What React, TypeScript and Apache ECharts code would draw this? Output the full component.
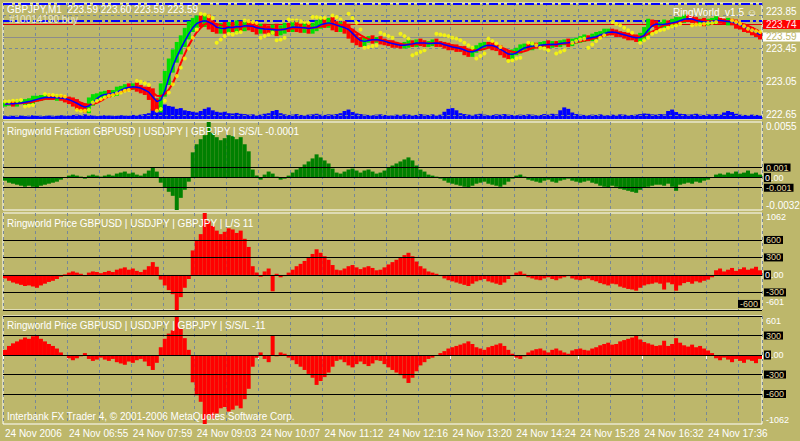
import React, { useEffect, useRef } from 'react';
import * as echarts from 'echarts';

const FONT = '"Liberation Sans", Arial, sans-serif';
const BG = '#BDB76B';
const GRID_COLOR = '#778899';
const TEXT = '#FFFFFF';
const LEVEL_TEXT = '#E6DCA0';
const UP = '#00E000';
const DOWN = '#FF0000';

// ---- axis / tick labels ----
const tickLabels = ['24 Nov 2006', '24 Nov 06:55', '24 Nov 07:59', '24 Nov 09:03', '24 Nov 10:07', '24 Nov 11:12',
  '24 Nov 12:16', '24 Nov 13:20', '24 Nov 14:24', '24 Nov 15:28', '24 Nov 16:32', '24 Nov 17:36'];
const BARS_PER_TICK = 16;
const priceTicks = [222.65, 223.05, 223.45, 223.85];
const askPrice = 223.74;
const bidPrice = 223.59;
const orderLevels = [223.99, 223.78];
const fractionRange = [-0.0032, 0.0055];
const fractionLevels = [0.001, 0, -0.001];
const lsRange = [-601, 1062];
const sslRange = [-1062, 601];
const priceLevels = [600, 300, 0, -300, -600];

// ---- main panel: GBPJPY closes (4-minute bars) ----
const closes = [
  222.78, 222.79, 222.78, 222.80, 222.80, 222.81, 222.82, 222.84, 222.85, 222.86,
  222.87, 222.86, 222.85, 222.86, 222.85, 222.83, 222.82, 222.79, 222.76, 222.74,
  222.73, 222.80, 222.86, 222.88, 222.90, 222.91, 222.90, 222.92, 222.95, 222.97,
  222.99, 222.98, 223.00, 222.97, 222.95, 222.93, 222.89, 222.78, 222.76, 222.95,
  223.10, 223.24, 223.36, 223.45, 223.54, 223.63, 223.71, 223.76, 223.79, 223.77,
  223.80, 223.74, 223.70, 223.68, 223.71, 223.69, 223.72, 223.70, 223.73, 223.71,
  223.74, 223.72, 223.70, 223.68, 223.70, 223.68, 223.67, 223.69, 223.66, 223.68,
  223.71, 223.70, 223.72, 223.70, 223.69, 223.71, 223.68, 223.71, 223.74, 223.76,
  223.75, 223.77, 223.73, 223.70, 223.72, 223.69, 223.63, 223.58, 223.54, 223.52,
  223.55, 223.57, 223.55, 223.56, 223.54, 223.52, 223.51, 223.50, 223.49, 223.48,
  223.50, 223.52, 223.50, 223.53, 223.52, 223.50, 223.51, 223.53, 223.51, 223.50,
  223.48, 223.47, 223.46, 223.45, 223.44, 223.41, 223.39, 223.43, 223.46, 223.48,
  223.50, 223.49, 223.47, 223.45, 223.41, 223.38, 223.36, 223.40, 223.43, 223.46,
  223.48, 223.47, 223.49, 223.48, 223.50, 223.51, 223.49, 223.51, 223.50, 223.52,
  223.53, 223.51, 223.54, 223.55, 223.57, 223.58, 223.57, 223.60, 223.61, 223.63,
  223.65, 223.66, 223.64, 223.63, 223.62, 223.60, 223.59, 223.58, 223.57, 223.60,
  223.66, 223.76, 223.75, 223.73, 223.74, 223.76, 223.75, 223.77, 223.79, 223.80,
  223.82, 223.81, 223.79, 223.77, 223.78, 223.76, 223.78, 223.79, 223.80, 223.78,
  223.77, 223.78, 223.76, 223.73, 223.71, 223.69, 223.67, 223.65, 223.62, 223.59,
];
// extent of each bar's range beyond open/close, in pips (0.01)
const wickPips = [
  3, 2, 3, 3, 2, 3, 3, 4, 3, 3, 3, 3, 2, 3, 3, 3, 4, 4, 5, 4,
  5, 6, 4, 3, 3, 3, 4, 3, 4, 3, 3, 4, 3, 4, 4, 4, 6, 8, 7, 8,
  8, 9, 8, 8, 7, 7, 7, 6, 6, 6, 6, 6, 5, 5, 5, 6, 5, 5, 6, 5,
  5, 5, 5, 6, 5, 5, 5, 5, 6, 5, 5, 5, 5, 5, 5, 5, 5, 5, 5, 5,
  5, 5, 6, 5, 5, 6, 6, 6, 5, 5, 4, 3, 4, 3, 4, 3, 3, 4, 3, 3,
  3, 4, 3, 3, 4, 3, 3, 3, 4, 3, 3, 4, 3, 4, 3, 4, 4, 4, 3, 4,
  3, 3, 4, 3, 4, 4, 4, 4, 3, 4, 3, 3, 4, 3, 3, 3, 4, 3, 3, 3,
  3, 4, 3, 3, 3, 4, 3, 3, 4, 3, 4, 3, 3, 4, 3, 3, 4, 3, 4, 4,
  5, 5, 4, 4, 3, 4, 3, 4, 4, 3, 4, 4, 3, 4, 3, 4, 3, 3, 4, 3,
  3, 4, 3, 4, 3, 4, 3, 4, 3, 3,
];
const volumes = [
  20, 18, 22, 16, 24, 20, 18, 26, 22, 18, 20, 24, 18, 22, 26, 20, 24, 28, 30, 26,
  32, 28, 24, 20, 22, 26, 24, 20, 22, 26, 24, 22, 28, 26, 30, 34, 40, 70, 95, 80,
  100, 90, 85, 70, 75, 60, 55, 50, 45, 55, 70, 80, 60, 50, 45, 50, 40, 38, 42, 36,
  34, 30, 32, 28, 30, 36, 40, 55, 62, 40, 32, 28, 30, 34, 28, 26, 30, 32, 36, 30,
  28, 32, 30, 34, 40, 55, 65, 48, 38, 34, 30, 28, 26, 30, 32, 28, 26, 24, 30, 28,
  32, 30, 26, 28, 34, 30, 28, 32, 26, 30, 50, 70, 75, 60, 40, 34, 30, 28, 32, 36,
  30, 26, 28, 32, 30, 34, 30, 28, 26, 30, 28, 32, 30, 26, 28, 34, 30, 36, 32, 60,
  80, 70, 45, 34, 30, 28, 26, 30, 28, 32, 28, 26, 30, 28, 32, 30, 26, 28, 30, 34,
  38, 36, 32, 30, 34, 32, 55, 65, 48, 36, 34, 30, 32, 36, 30, 28, 32, 30, 34, 30,
  45, 55, 48, 36, 30, 28, 26, 30, 28, 24,
];
const sarValues = [
  222.81, 222.81, 222.82, 222.82, 222.83, 222.75, 222.76, 222.77, null, null,
  222.90, 222.89, 222.89, 222.88, 222.88, 222.87, null, null, 222.71, 222.70,
  222.70, 222.71, 222.80, 222.82, 222.84, 222.86, 222.88, 222.89, 222.91, 222.92,
  222.94, 222.95, null, 223.06, 223.05, 223.03, 223.01, null, 222.70, 222.72,
  222.82, 222.92, 223.02, 223.12, 223.22, 223.33, 223.45, 223.58, 223.68, 223.87,
  223.86, 223.84, 223.82, 223.52, 223.56, 223.60, 223.63, 223.62, 223.64, 223.65,
  223.79, 223.78, 223.77, 223.76, 223.58, 223.60, 223.62, 223.64, 223.55, 223.56,
  223.58, 223.80, 223.79, 223.79, 223.78, 223.77, 223.76, 223.83, 223.83, 223.82,
  223.82, null, 223.85, 223.83, 223.80, null, 223.87, 223.82, 223.76, 223.68,
  223.46, 223.47, 223.48, 223.49, 223.64, 223.62, 223.60, 223.58, null, 223.63,
  223.60, 223.57, 223.37, 223.39, 223.41, 223.43, null, null, 223.63, 223.62,
  223.61, 223.60, 223.58, 223.57, 223.55, 223.52, 223.49, 223.46, 223.33, 223.36,
  223.39, 223.57, 223.54, 223.51, 223.47, null, 223.30, 223.31, 223.33, 223.34,
  null, 223.52, 223.51, 223.49, 223.46, 223.45, 223.43, null, 223.39, 223.41,
  223.43, null, 223.52, 223.54, 223.56, 223.57, 223.46, 223.50, 223.54, 223.58,
  223.61, null, 223.77, 223.75, 223.73, 223.70, 223.67, 223.64, null, 223.52,
  223.55, 223.58, 223.63, 223.65, 223.67, 223.68, 223.70, 223.72, 223.73, 223.75,
  null, null, 223.73, 223.74, 223.74, 223.75, 223.76, 223.76, 223.77, null,
  null, null, 223.79, 223.77, 223.75, 223.72, 223.69, 223.67, 223.66, 223.65,
];

// ---- indicator 1: Ringworld Fraction (units of 0.0001) ----
const FRACTION_UNIT = 10000;
const fractionValues = [
  -3, -5, -6, -7, -8, -9, -8, -9, -10, -8, -7, -6, -5, -4, -2, 0, 2, 3, 2, 1,
  -1, 2, 3, 2, 1, 2, 3, 2, 4, 5, 6, 4, 5, 3, 2, 4, 7, 10, 6, -5,
  -10, -14, -18, -32, -20, -12, -4, 25, 33, 38, 42, 55, 44, 40, 37, 39, 42, 41, 38, 40,
  33, 26, 8, 2, -2, 3, 6, 4, 1, -2, -1, 2, 5, 8, 10, 13, 16, 19, 23, 20,
  17, 14, 9, 5, 4, 6, 8, 9, 7, 5, 7, 8, 6, 4, 5, 7, 10, 12, 14, 16,
  18, 20, 17, 12, 8, 6, 3, 2, 1, -1, -3, -5, -6, -7, -8, -9, -10, -8, -6, -5,
  -4, -6, -7, -8, -9, -7, -4, -1, 2, 3, 1, -2, -3, -4, -5, -3, -2, -4, -5, -3,
  -2, -1, -3, -4, -5, -4, -3, -5, -6, -8, -9, -10, -8, -9, -11, -12, -13, -14, -15, -12,
  -10, -9, -8, -7, -7, -8, -6, -9, -13, -7, -6, -5, -6, -4, -5, -3, -2, 0, 3, 4,
  3, 5, 4, 6, 4, 5, 7, 4, 5, 3,
];
// ---- indicator 2: Ringworld Price L/S 11 ----
const lsValues = [
  -60, -100, -130, -150, -170, -190, -180, -200, -220, -180, -150, -120, -100, -70, -30, 10, 40, 60, 40, 20,
  -20, 40, 60, 50, 30, 50, 70, 50, 90, 110, 130, 90, 110, 70, 50, 90, 150, 220, 140, -80,
  -180, -260, -330, -601, -380, -220, -70, 420, 600, 700, 1062, 920, 840, 760, 700, 740, 800, 780, 720, 760,
  620, 480, 150, 40, -30, 60, 110, -280, 20, -40, -20, 40, 90, 150, 190, 240, 300, 360, 440, 380,
  320, 260, 170, 90, 80, 110, 150, 170, 130, 100, 130, 150, 120, 80, 90, 130, 180, 220, 260, 300,
  340, 380, 320, 230, 150, 110, 60, 40, 20, -20, -60, -90, -110, -130, -150, -170, -190, -150, -110, -90,
  -70, -110, -130, -150, -170, -130, -70, -20, 40, 60, 20, -40, -60, -80, -90, -60, -40, -70, -90, -60,
  -40, -20, -60, -80, -90, -70, -60, -90, -110, -140, -160, -180, -150, -160, -200, -220, -240, -250, -270, -220,
  -180, -160, -150, -130, -150, -250, -130, -160, -270, -180, -140, -120, -150, -110, -130, -100, -80, -40, 80, 110,
  60, 90, 120, 70, 100, 130, 90, 110, 140, 80,
];
// ---- indicator 3: Ringworld Price S/S/L -11 ----
const sslValues = [
  80, 140, 180, 210, 240, 270, 250, 290, 300, 250, 210, 170, 140, 100, 40, -10, -50, -80, -50, -20,
  30, -60, -90, -70, -40, -70, -90, -60, -110, -130, -150, -100, -120, -80, -60, -100, -170, -230, -120, 120,
  250, 330, 380, 601, 400, 260, 80, -420, -620, -720, -1062, -930, -980, -900, -820, -800, -870, -840, -780, -820,
  -680, -520, -180, -40, 40, -60, -110, 300, -20, 40, 20, -40, -80, -140, -180, -230, -290, -350, -460, -400,
  -340, -270, -180, -90, -70, -110, -160, -190, -140, -100, -140, -170, -130, -80, -90, -140, -190, -230, -270, -310,
  -360, -430, -350, -250, -160, -110, -60, -40, -10, 30, 60, 100, 120, 140, 160, 180, 210, 170, 120, 100,
  80, 120, 140, 160, 180, 140, 80, 20, -40, -60, -20, 40, 70, 90, 100, 70, 40, 80, 100, 70,
  40, 20, 70, 90, 100, 80, 70, 100, 120, 150, 170, 190, 160, 170, 210, 230, 250, 270, 300, 240,
  200, 180, 160, 140, 150, 220, 140, 170, 260, 190, 150, 130, 160, 120, 140, 100, 70, 30, -50, -80,
  -40, -70, -110, -60, -90, -120, -70, -90, -125, -60,
];

const sma = (arr: number[], n: number) =>
  arr.map((_, i) => {
    const s = arr.slice(Math.max(0, i - n + 1), i + 1);
    return +(s.reduce((a, b) => a + b, 0) / s.length).toFixed(4);
  });

const categories = closes.map((_, i) => (i % BARS_PER_TICK === 0 ? tickLabels[i / BARS_PER_TICK] : 'bar' + i));
const opens = closes.map((c, i) => (i === 0 ? c : closes[i - 1]));
const lows = closes.map((c, i) => +(Math.min(opens[i], c) - wickPips[i] / 100).toFixed(2));
const highs = closes.map((c, i) => +(Math.max(opens[i], c) + wickPips[i] / 100).toFixed(2));
const rangeBars = closes.map((c, i) => ({
  value: +(highs[i] - lows[i]).toFixed(2),
  itemStyle: { color: c >= opens[i] ? UP : DOWN },
}));

const labelFont = { fontFamily: FONT, fontSize: 10, lineHeight: 9 };
const levelFont = { fontFamily: FONT, fontSize: 9, lineHeight: 8 };

const levelLine = (value: number, text: string, showText = true, inside = false) => ({
  yAxis: value,
  lineStyle: { color: '#000000', type: 'solid', width: 1 },
  label: !showText
    ? { show: false }
    : value === 0
    ? {
        show: true, position: 'end', distance: 2, formatter: () => '{box|0}{txt|.00}',
        rich: {
          box: { backgroundColor: '#000', color: TEXT, padding: [0, 1, 0, 1], ...levelFont },
          txt: { color: TEXT, ...levelFont },
        },
      }
    : {
        show: true, position: inside ? 'insideEndTop' : 'end', distance: 2, formatter: () => text,
        color: LEVEL_TEXT, backgroundColor: '#000', padding: [0, 2, 0, 2], ...levelFont,
      },
});

const gridLine = (value: number) => ({
  yAxis: value,
  lineStyle: { color: GRID_COLOR, type: [3, 3], width: 1 },
  label: { show: false },
});

const xAxisBase = (gridIndex: number, bottom: boolean, split = true) => ({
  type: 'category',
  gridIndex,
  data: categories,
  boundaryGap: true,
  axisLine: { show: bottom, lineStyle: { color: '#FFFFFF', width: 1 } },
  axisTick: { show: bottom, interval: BARS_PER_TICK - 1, length: 4, lineStyle: { color: '#FFFFFF' } },
  axisLabel: {
    show: bottom, interval: BARS_PER_TICK - 1, align: 'left', color: TEXT, margin: 4,
    fontFamily: FONT, fontSize: 10,
  },
  splitLine: { show: split, interval: 7, lineStyle: { color: GRID_COLOR, type: [3, 3], width: 1 } },
});

const indicatorAxis = (gridIndex: number, range: number[], digits: number, pad: number[], font = labelFont) => ({
  type: 'value',
  gridIndex,
  position: 'right',
  min: range[0],
  max: range[1],
  axisLine: { show: false },
  axisTick: { show: false },
  splitLine: { show: false },
  axisLabel: {
    show: true,
    customValues: range,
    formatter: (v: number) => v.toFixed(digits),
    color: TEXT,
    margin: 4,
    padding: pad,
    verticalAlignMinLabel: 'bottom',
    verticalAlignMaxLabel: 'top',
    ...font,
  },
});

const titleText = (x: number, y: number, text: string, fill = TEXT, align = 'left') => ({
  type: 'text',
  x,
  y,
  silent: true,
  z: 100,
  style: { text, fill, font: `10px ${FONT}`, lineHeight: 10, align, verticalAlign: 'middle' },
});

const gridBox = { show: true, borderColor: '#FFFFFF', borderWidth: 1, backgroundColor: 'transparent', outerBoundsMode: 'none' };

export default function App() {
  const ref = useRef<HTMLDivElement>(null);
  useEffect(() => {
    if (!ref.current) return;
    const chart = echarts.init(ref.current, undefined, { renderer: 'svg' });
    const topTick = priceTicks[priceTicks.length - 1];
    const option: any = {
      animation: false,
      backgroundColor: BG,
      textStyle: { fontFamily: FONT },
      grid: [
        { left: 3, top: 3, width: 759, height: 116, ...gridBox },
        { left: 3, top: 122, width: 759, height: 88, ...gridBox },
        { left: 3, top: 213, width: 759, height: 97, ...gridBox },
        { left: 3, top: 316, width: 759, height: 108, ...gridBox },
      ],
      xAxis: [
        xAxisBase(0, false), xAxisBase(1, false), xAxisBase(2, false), xAxisBase(3, true),
        xAxisBase(0, false, false),
      ],
      yAxis: [
        {
          type: 'value', gridIndex: 0, position: 'right', min: 222.6, max: 224.0,
          axisLine: { show: false }, axisTick: { show: false }, splitLine: { show: false },
          axisLabel: {
            show: true, customValues: priceTicks,
            formatter: (v: number) => (Math.abs(v - topTick) < 1e-6 ? `{top|${v.toFixed(2)}}` : v.toFixed(2)),
            rich: { top: { color: TEXT, padding: [0, 0, 7, 0], ...labelFont } },
            color: TEXT, margin: 4, ...labelFont,
          },
        },
        { type: 'value', gridIndex: 0, min: 0, max: 800, show: false },
        indicatorAxis(1, fractionRange, 4, [0, 0, 0, 0]),
        indicatorAxis(2, lsRange, 0, [0, 0, 4, 0], levelFont),
        indicatorAxis(3, sslRange, 0, [1, 0, 0, 0], levelFont),
      ],
      series: [
        {
          type: 'bar', name: 'volume', xAxisIndex: 4, yAxisIndex: 1, data: volumes,
          barWidth: '100%', itemStyle: { color: '#0000FF' }, z: 1, silent: true,
        },
        {
          type: 'bar', name: 'low', xAxisIndex: 0, yAxisIndex: 0, stack: 'range', data: lows,
          barWidth: '100%', itemStyle: { color: 'transparent' }, z: 3, silent: true,
          markLine: {
            silent: true, symbol: ['none', 'none'], z: 2, precision: 4,
            data: [
              ...priceTicks.map(gridLine),
              ...orderLevels.map((v) => ({
                yAxis: v, lineStyle: { color: '#0000FF', type: [9, 3, 3, 3], width: 2 }, label: { show: false },
              })),
              {
                yAxis: bidPrice, lineStyle: { color: '#8C8C8C', type: 'solid', width: 1 },
                label: {
                  show: true, position: 'end', distance: 1, formatter: () => bidPrice.toFixed(2),
                  color: BG, backgroundColor: '#FFFFFF', padding: [0, 4, 0, 3], ...labelFont,
                },
              },
              {
                yAxis: askPrice, lineStyle: { color: '#E00000', type: 'solid', width: 1 },
                label: {
                  show: true, position: 'end', distance: 1, formatter: () => askPrice.toFixed(2),
                  color: '#FFE8E8', backgroundColor: '#FF0000', padding: [0, 4, 0, 3], ...labelFont,
                },
              },
            ],
          },
        },
        {
          type: 'bar', name: 'GBPJPY range', xAxisIndex: 0, yAxisIndex: 0, stack: 'range', data: rangeBars,
          barWidth: '100%', z: 3, silent: true,
        },
        {
          type: 'line', name: 'slow', xAxisIndex: 0, yAxisIndex: 0, data: sma(closes, 6),
          showSymbol: false, lineStyle: { color: '#FF0000', width: 2 }, z: 4, silent: true,
        },
        {
          type: 'line', name: 'fast', xAxisIndex: 0, yAxisIndex: 0, data: sma(closes, 3),
          showSymbol: false, lineStyle: { color: '#0000FF', width: 1.5 }, z: 5, silent: true,
        },
        {
          type: 'scatter', name: 'sar', xAxisIndex: 0, yAxisIndex: 0, data: sarValues,
          symbol: 'circle', symbolSize: 4, itemStyle: { color: '#FFFF00' }, z: 6, silent: true,
        },
        {
          type: 'bar', name: 'fraction', xAxisIndex: 1, yAxisIndex: 2,
          data: fractionValues.map((v) => v / FRACTION_UNIT),
          barWidth: '100%', itemStyle: { color: '#008000' }, z: 2, silent: true,
          markLine: {
            silent: true, symbol: ['none', 'none'], z: 3, precision: 4,
            data: fractionLevels.map((v) => levelLine(v, v.toFixed(3))),
          },
        },
        {
          type: 'bar', name: 'ls', xAxisIndex: 2, yAxisIndex: 3, data: lsValues,
          barWidth: '100%', itemStyle: { color: '#FF0000' }, z: 2, silent: true,
          markLine: {
            silent: true, symbol: ['none', 'none'], z: 3,
            data: priceLevels.map((v) => levelLine(v, String(v), true, v === -600)),
          },
        },
        {
          type: 'bar', name: 'ssl', xAxisIndex: 3, yAxisIndex: 4, data: sslValues,
          barWidth: '100%', itemStyle: { color: '#FF0000' }, z: 2, silent: true,
          markLine: {
            silent: true, symbol: ['none', 'none'], z: 3,
            data: priceLevels.map((v) => levelLine(v, String(v), v !== 600)),
          },
        },
      ],
      graphic: [
        titleText(7, 9, 'GBPJPY,M1  223.59 223.60 223.59 223.59'),
        titleText(9, 19.5, '#10014190 buy', '#ECE8D0'),
        titleText(757, 12, 'RingWorld_v1.5 \u263A', TEXT, 'right'),
        titleText(7, 131, 'Ringworld Fraction GBPUSD | USDJPY | GBPJPY | S/S/L -0.0001'),
        titleText(7, 223, 'Ringworld Price GBPUSD | USDJPY | GBPJPY | L/S 11'),
        titleText(7, 325, 'Ringworld Price GBPUSD | USDJPY | GBPJPY | S/S/L -11'),
        titleText(7, 416, 'Interbank FX Trader 4, \u00A9 2001-2006 MetaQuotes Software Corp.'),
      ],
    };
    chart.setOption(option);
    return () => chart.dispose();
  }, []);
  return (
    <div
      ref={ref}
      style={{ position: 'fixed', left: 0, top: 0, width: 800, height: 441, background: BG }}
    />
  );
}
